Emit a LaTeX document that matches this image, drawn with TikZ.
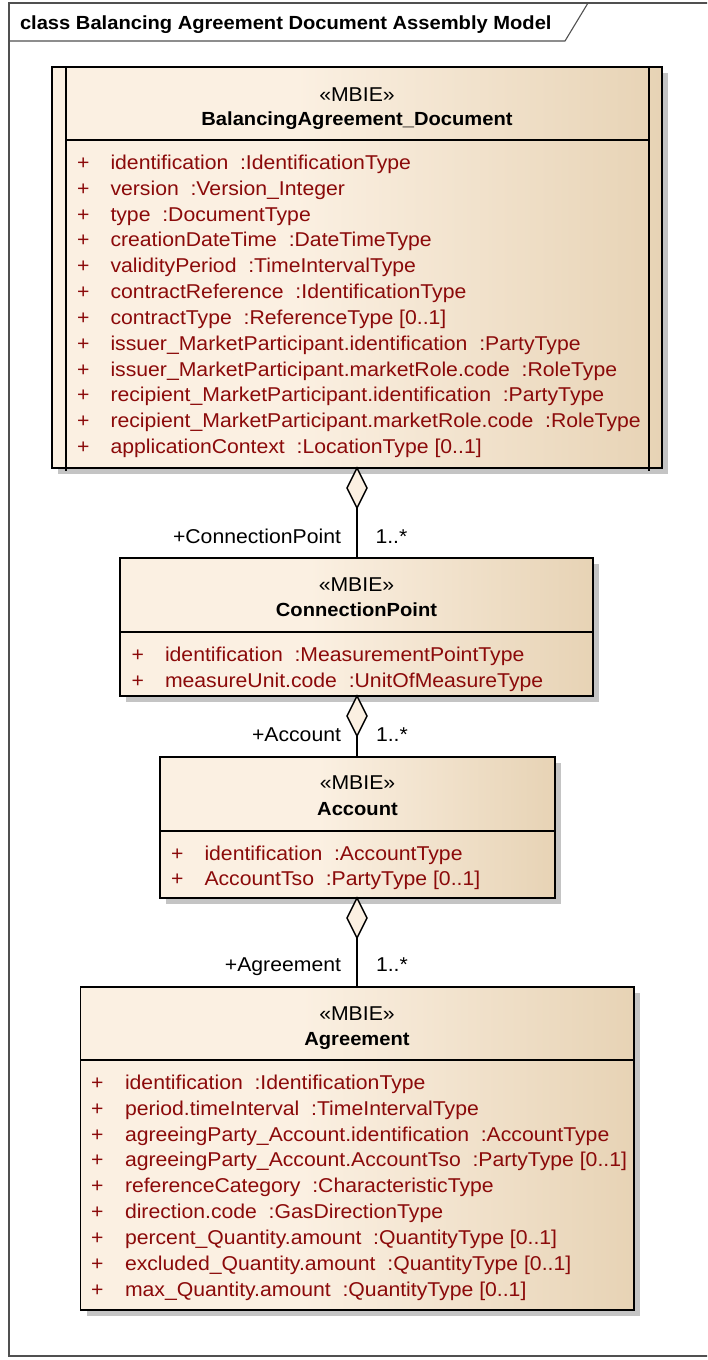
\documentclass[tikz,border=0pt]{standalone}
\usepackage{fontspec}
\setmainfont{Liberation Sans}[FakeStretch=1.06]
\usetikzlibrary{shapes.geometric,shadows}
\definecolor{cL}{HTML}{FBF0E2}
\definecolor{cR}{HTML}{E7D3B5}
\definecolor{attrred}{HTML}{8B0A0A}
\definecolor{shd}{HTML}{C4C4C4}
\definecolor{framec}{HTML}{505050}
\pgfdeclarehorizontalshading{umlfill}{100bp}{color(0bp)=(cL); color(25bp)=(cL); color(45bp)=(cL); color(75bp)=(cR); color(100bp)=(cR)}
\tikzset{
  classbox/.style={draw=black, line width=1.6pt, shading=umlfill, inner sep=0pt, outer sep=0pt, anchor=north west,
    drop shadow={shadow xshift=6pt, shadow yshift=-6pt, fill=shd, opacity=1}},
  sepline/.style={draw=black, line width=1.6pt},
  txt/.style={font=\fontsize{20}{24}\selectfont, inner sep=0pt, outer sep=0pt},
  boldtxt/.style={txt, font=\fontsize{19}{23}\selectfont\bfseries},
  attr/.style={txt, text=attrred, anchor=base west},
  stereo/.style={txt, anchor=base},
  cname/.style={boldtxt, anchor=base},
  agg/.style={shape=diamond, draw=black, line width=1.4pt, fill=cL, minimum width=20pt, minimum height=40pt, inner sep=0pt, outer sep=0pt, anchor=north},
  conn/.style={draw=black, line width=1.4pt},
  role/.style={txt, text=black},
}
\begin{document}
\begin{tikzpicture}[x=1pt,y=-1pt]
\useasboundingbox (0,0) rectangle (707,1360);
\clip (0,0) rectangle (707,1360);
\fill[white] (0,0) rectangle (707,1360);
% frame
\draw[framec, line width=1.1pt] (9,3) rectangle (720,1356);
\draw[framec, line width=1.1pt] (9,41) -- (565,41) -- (588,3);
\node[boldtxt, anchor=base west] (title) at (20,29) {class Balancing Agreement Document Assembly Model};

% ---------- BalancingAgreement_Document ----------
\node[classbox, minimum width=610pt, minimum height=401pt] (doc) at (52,67) {};
\draw[sepline] (66,67) -- (66,471);
\draw[sepline] (649,67) -- (649,471);
\draw[sepline] (66,140) -- (649,140);
\node[stereo] (docst) at (357,101.5) {«MBIE»};
\node[cname] (docnm) at (357,125.5) {BalancingAgreement\_Document};
\foreach \t [count=\i] in {
  identification\ \ :IdentificationType,
  version\ \ :Version\_Integer,
  type\ \ :DocumentType,
  creationDateTime\ \ :DateTimeType,
  validityPeriod\ \ :TimeIntervalType,
  contractReference\ \ :IdentificationType,
  contractType\ \ :ReferenceType [0..1],
  issuer\_MarketParticipant.identification\ \ :PartyType,
  issuer\_MarketParticipant.marketRole.code\ \ :RoleType,
  recipient\_MarketParticipant.identification\ \ :PartyType,
  recipient\_MarketParticipant.marketRole.code\ \ :RoleType,
  applicationContext\ \ :LocationType [0..1]}{
  \node[attr] (docp\i) at (77,{169.3+25.85*(\i-1)}) {+};
  \node[attr] (doca\i) at (110.5,{169.3+25.85*(\i-1)}) {\t};
}

% ---------- ConnectionPoint ----------
\node[classbox, minimum width=473pt, minimum height=138pt] (cp) at (120,558) {};
\draw[sepline] (120,632) -- (593,632);
\node[stereo] (cpst) at (356.5,591.7) {«MBIE»};
\node[cname] (cpnm) at (356.5,616.7) {ConnectionPoint};
\foreach \t [count=\i] in {
  identification\ \ :MeasurementPointType,
  measureUnit.code\ \ :UnitOfMeasureType}{
  \node[attr] (cpp\i) at (131.5,{661.7+25.85*(\i-1)}) {+};
  \node[attr] (cpa\i) at (165,{661.7+25.85*(\i-1)}) {\t};
}

% ---------- Account ----------
\node[classbox, minimum width=395pt, minimum height=141pt] (acc) at (160,757) {};
\draw[sepline] (160,831) -- (555,831);
\node[stereo] (accst) at (357.5,789.3) {«MBIE»};
\node[cname] (accnm) at (357.5,815.5) {Account};
\foreach \t [count=\i] in {
  identification\ \ :AccountType,
  AccountTso\ \ :PartyType [0..1]}{
  \node[attr] (accp\i) at (171,{860+25.85*(\i-1)}) {+};
  \node[attr] (acca\i) at (204.5,{860+25.85*(\i-1)}) {\t};
}

% ---------- Agreement ----------
\node[classbox, minimum width=553.5pt, minimum height=323pt] (agr) at (80.5,987) {};
\draw[sepline] (80.5,1060) -- (634,1060);
\node[stereo] (agrst) at (357,1020) {«MBIE»};
\node[cname] (agrnm) at (357,1045) {Agreement};
\foreach \t [count=\i] in {
  identification\ \ :IdentificationType,
  period.timeInterval\ \ :TimeIntervalType,
  agreeingParty\_Account.identification\ \ :AccountType,
  agreeingParty\_Account.AccountTso\ \ :PartyType [0..1],
  referenceCategory\ \ :CharacteristicType,
  direction.code\ \ :GasDirectionType,
  percent\_Quantity.amount\ \ :QuantityType [0..1],
  excluded\_Quantity.amount\ \ :QuantityType [0..1],
  max\_Quantity.amount\ \ :QuantityType [0..1]}{
  \node[attr] (agrp\i) at (91,{1089.3+25.85*(\i-1)}) {+};
  \node[attr] (agra\i) at (125,{1089.3+25.85*(\i-1)}) {\t};
}

% ---------- aggregations ----------
\node[agg] (d1) at (357,468) {};
\draw[conn] (d1.south) -- (d1.south |- cp.north);
\node[role, anchor=base east] (r1) at (341,543.5) {+ConnectionPoint};
\node[role, anchor=base west] (m1) at (375.5,543.5) {1..*};

\node[agg] (d2) at (357,696) {};
\draw[conn] (d2.south) -- (d2.south |- acc.north);
\node[role, anchor=base east] (r2) at (341,741.7) {+Account};
\node[role, anchor=base west] (m2) at (376,741.7) {1..*};

\node[agg] (d3) at (357,898) {};
\draw[conn] (d3.south) -- (d3.south |- agr.north);
\node[role, anchor=base east] (r3) at (341,971.7) {+Agreement};
\node[role, anchor=base west] (m3) at (376,971.7) {1..*};
\end{tikzpicture}
\end{document}
